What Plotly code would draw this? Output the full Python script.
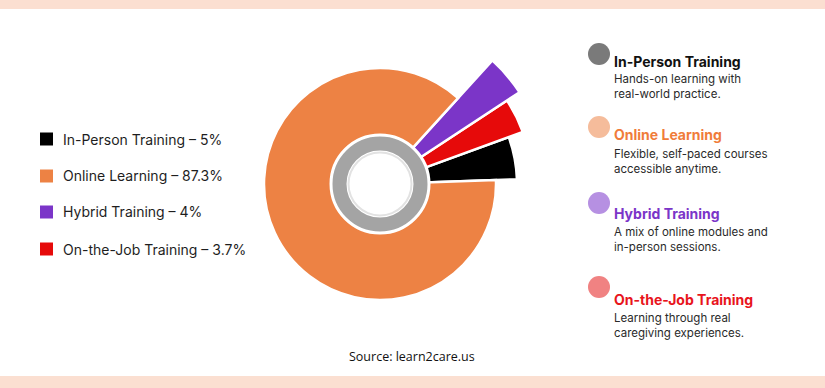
import plotly.graph_objects as go

# ---- data ----
categories = ["In-Person Training", "Online Learning", "Hybrid Training", "On-the-Job Training"]
shares = [5, 87.3, 4, 3.7]
slice_colors = ["#000000", "#ED8244", "#7B35C8", "#E60A0A"]
# outer reach of each slice (radial units)
reach = [137, 116, 167, 152]
# drawing order counter-clockwise from east
order = [0, 3, 2, 1]

desc_titles = ["In-Person Training", "Online Learning", "Hybrid Training", "On-the-Job Training"]
desc_lines = [
    ["Hands-on learning with", "real-world practice."],
    ["Flexible, self-paced courses", "accessible anytime."],
    ["A mix of online modules and", "in-person sessions."],
    ["Learning through real", "caregiving experiences."],
]
desc_title_colors = ["#111111", "#F07C3A", "#7B35C8", "#E8141C"]
desc_dot_colors = ["#7A7A7A", "#F5BC9B", "#B690E2", "#F08282"]
source_text = "Source: learn2care.us"

W, H = 825, 388
BASE = 45

fig = go.Figure()

# slices
start = 0.0
thetas, widths, rs, cols = [], [], [], []
for i in order:
    w = shares[i] * 3.6
    thetas.append(start + w / 2)
    widths.append(w)
    rs.append(reach[i] - BASE)
    cols.append(slice_colors[i])
    start += w
fig.add_trace(go.Barpolar(
    theta=thetas, width=widths, r=rs, base=BASE,
    marker=dict(color=cols, line=dict(color="white", width=2.5)),
    hoverinfo="skip", showlegend=False,
))
# inner white disc
fig.add_trace(go.Barpolar(theta=[180], width=[360], r=[BASE], base=0,
                          marker=dict(color="white", line=dict(width=0)),
                          hoverinfo="skip", showlegend=False))
# grey ring
fig.add_trace(go.Barpolar(theta=[180], width=[360], r=[17], base=32,
                          marker=dict(color="#A4A4A4", line=dict(color="white", width=3)),
                          hoverinfo="skip", showlegend=False))
# soft inner shadow
fig.add_trace(go.Barpolar(theta=[180], width=[360], r=[2], base=30.5,
                          marker=dict(color="#E2E2E2", line=dict(width=0)),
                          hoverinfo="skip", showlegend=False))

cx, cy, R = 380, 184, 170
fig.update_layout(
    width=W, height=H,
    margin=dict(l=0, r=0, t=0, b=0),
    paper_bgcolor="white", plot_bgcolor="white",
    polar=dict(
        domain=dict(x=[(cx - R) / W, (cx + R) / W], y=[1 - (cy + R) / H, 1 - (cy - R) / H]),
        bgcolor="rgba(0,0,0,0)",
        radialaxis=dict(visible=False, range=[0, R]),
        angularaxis=dict(visible=False, direction="counterclockwise", rotation=2),
        barmode="overlay",
    ),
    showlegend=False,
)

shapes = []
annotations = []
# peach strips
shapes.append(dict(type="rect", xref="paper", yref="paper", x0=0, x1=1, y0=1 - 9 / H, y1=1,
                   fillcolor="#FBDFD1", line=dict(width=0), layer="below"))
shapes.append(dict(type="rect", xref="paper", yref="paper", x0=0, x1=1, y0=0, y1=12 / H,
                   fillcolor="#FBDFD1", line=dict(width=0), layer="below"))

# left legend
leg_y = [139, 176, 212, 249]
for i, name in enumerate(categories):
    y = leg_y[i]
    shapes.append(dict(type="rect", xref="paper", yref="paper",
                       x0=40 / W, x1=53 / W, y0=1 - (y + 6.5) / H, y1=1 - (y - 6.5) / H,
                       fillcolor=slice_colors[i], line=dict(width=0)))
    annotations.append(dict(x=61 / W, y=1 - y / H, xref="paper", yref="paper",
                            xanchor="left", yanchor="middle", showarrow=False,
                            text=f"{name} \u2013 {shares[i]:g}%",
                            font=dict(family="Inter", size=14, color="#1E1E1E")))

# right descriptions
dot_y = [54, 127, 203, 287]
title_y = [62, 134, 213, 299]
line_y0 = [79, 154, 232, 318]
for i in range(4):
    y = dot_y[i]
    shapes.append(dict(type="circle", xref="paper", yref="paper",
                       x0=588 / W, x1=610 / W, y0=1 - (y + 11) / H, y1=1 - (y - 11) / H,
                       fillcolor=desc_dot_colors[i], line=dict(width=0)))
    annotations.append(dict(x=612 / W, y=1 - title_y[i] / H, xref="paper", yref="paper",
                            xanchor="left", yanchor="middle", showarrow=False,
                            text=f"<b>{desc_titles[i]}</b>",
                            font=dict(family="Inter", size=14, color=desc_title_colors[i])))
    for j, ln in enumerate(desc_lines[i]):
        annotations.append(dict(x=612 / W, y=1 - (line_y0[i] + 15 * j) / H, xref="paper", yref="paper",
                                xanchor="left", yanchor="middle", showarrow=False,
                                text=ln,
                                font=dict(family="Inter", size=11.5, color="#2A2A2A")))

annotations.append(dict(x=412 / W, y=1 - 356 / H, xref="paper", yref="paper",
                        xanchor="center", yanchor="middle", showarrow=False,
                        text=source_text,
                        font=dict(family="Open Sans", size=12.5, color="#111111")))

fig.update_layout(shapes=shapes, annotations=annotations)
fig.write_html("out.html")
